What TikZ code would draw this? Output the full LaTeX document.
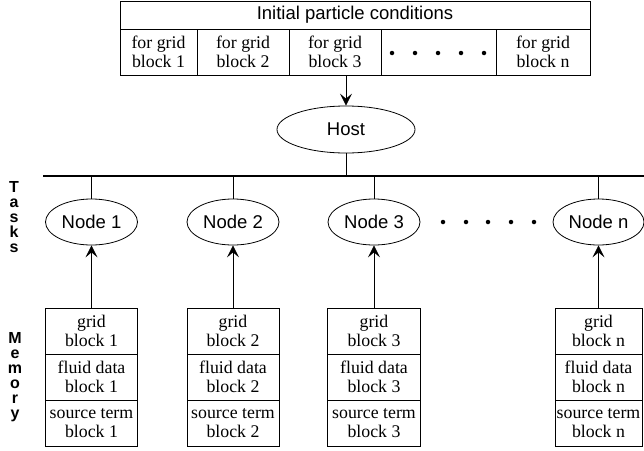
\documentclass[tikz,border=0pt]{standalone}
\usepackage{fontspec}
\setmainfont{Liberation Serif}
\setsansfont{Liberation Sans}
\usetikzlibrary{arrows.meta,shapes.geometric}
\begin{document}
\begin{tikzpicture}[x=1pt,y=-1pt, line width=0.8pt,
 cell/.style={draw, minimum height=46pt, inner sep=0pt, align=center, font=\fontsize{17.8}{18.5}\selectfont},
 titlebox/.style={draw, minimum height=28pt, inner sep=0pt, font=\sffamily\fontsize{18.5}{20}\selectfont},
 ell/.style={draw, ellipse, minimum width=92pt, minimum height=46pt, inner sep=0pt, font=\sffamily\fontsize{18.5}{20}\selectfont},
 arr/.style={-{Stealth[length=12pt,width=12pt,inset=5pt]}},
 dotm/.style={circle, fill, inner sep=0pt, minimum size=4.5pt},
 vlab/.style={font=\sffamily\bfseries\fontsize{16}{15}\selectfont, align=center, inner sep=0pt}
]
\useasboundingbox (0,0) rectangle (644,450);
% top box
\node[titlebox, minimum width=470pt] (init) at (355,15) {Initial particle conditions};
\node[cell, minimum width=77pt] (c1) at (158.5,52) {for grid\\block 1};
\node[cell, minimum width=92pt] (c2) at (243,52) {for grid\\block 2};
\node[cell, minimum width=92pt] (c3) at (335,52) {for grid\\block 3};
\node[cell, minimum width=115pt] (c4) at (438.5,52) {};
\node[cell, minimum width=94pt] (c5) at (543,52) {for grid\\block n};
\foreach \i/\x in {1/392,2/415,3/438,4/461,5/484}
  \node[dotm] (td\i) at (\x,53) {};
% host
\node[ell, minimum width=138pt, minimum height=47pt] (host) at (346,129.5) {Host};
\draw[arr] (host.north |- c3.south) -- (host.north);
% bus
\coordinate (busL) at (43,176);
\coordinate (busR) at (644,176);
\draw[line width=1.6pt] (busL) -- (busR);
\draw (host.south) -- (host.south |- busL);
% nodes
\node[ell] (n1) at (91.5,222) {Node 1};
\node[ell] (n2) at (233,222) {Node 2};
\node[ell] (n3) at (374,222) {Node 3};
\node[ell, minimum width=91pt] (nn) at (598.5,222) {Node n};
\foreach \n in {n1,n2,n3,nn}
  \draw (\n.north) -- (\n.north |- busL);
\foreach \i/\x in {1/443,2/466,3/488,4/511,5/534}
  \node[dotm] (nd\i) at (\x,222) {};
% memory
\foreach \k/\x/\w/\lab in {1/91.5/92/1,2/233/92/2,3/374/93/3,n/598.5/87/n}{
  \node[cell, minimum width=\w pt] (g\k) at (\x,331) {grid\\block \lab};
  \node[cell, minimum width=\w pt] (f\k) at (\x,377) {fluid data\\block \lab};
  \node[cell, minimum width=\w pt] (s\k) at (\x,423) {source term\\block \lab};
}
\draw[arr] (g1.north) -- (n1.south);
\draw[arr] (g2.north) -- (n2.south);
\draw[arr] (g3.north) -- (n3.south);
\draw[arr] (gn.north) -- (nn.south);
% side labels
\node[vlab] (tasks) at (14,217) {T\\a\\s\\k\\s};
\node[vlab] (memory) at (15,377) {M\\e\\m\\o\\r\\y};
\end{tikzpicture}
\end{document}
